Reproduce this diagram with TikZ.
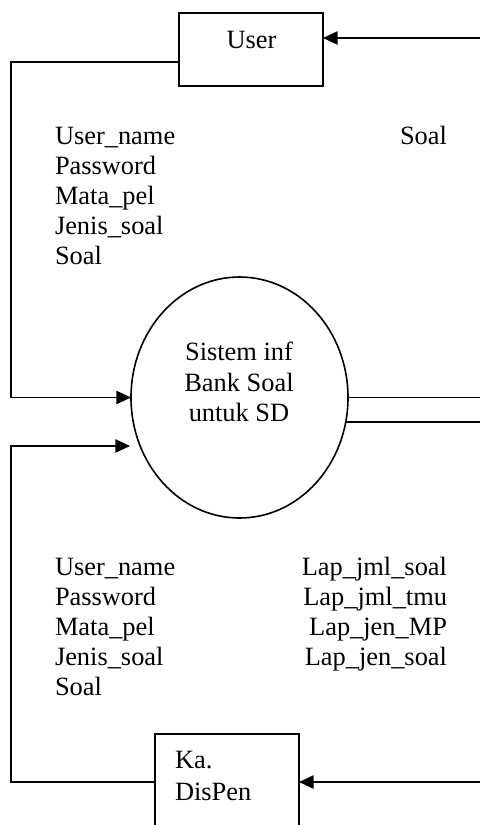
\documentclass[tikz,border=0pt]{standalone}
\usepackage{fontspec}
\setmainfont{Liberation Serif}
\usetikzlibrary{shapes.geometric,arrows.meta}
\begin{document}
\begin{tikzpicture}[x=0.75pt,y=-0.75pt,
  line width=1.2pt,
  every node/.style={font=\fontsize{19.8pt}{22.5pt}\selectfont, inner sep=0pt, outer sep=0pt},
  entity/.style={draw, rectangle, minimum width=108pt},
  procbubble/.style={draw, ellipse, minimum width=162.75pt, minimum height=180.75pt},
  lbl/.style={anchor=base west},
  rlbl/.style={anchor=base east},
  ctr/.style={anchor=base},
  arr/.style={-{Triangle[length=11pt,width=10pt]}}
]
\useasboundingbox (0,0) rectangle (480,825);

% nodes
\node[entity, minimum height=54.75pt] (user) at (251,49.5) {};
\node[ctr] (usert) at (251.5,48.5) {User};
\node[procbubble] (sys) at (239.5,397.5) {};
\node[ctr] (s1) at (239,360) {Sistem inf};
\node[ctr] (s2) at (239,391) {Bank Soal};
\node[ctr] (s3) at (239,421) {untuk SD};
\node[entity, minimum height=87pt] (ka) at (227,792) {};
\node[lbl] (k1) at (175,768) {Ka.};
\node[lbl] (k2) at (175,800) {DisPen};

% upper labels
\node[lbl] (u1) at (55,144) {User\_name};
\node[lbl] (u2) at (55,174) {Password};
\node[lbl] (u3) at (55,204) {Mata\_pel};
\node[lbl] (u4) at (55,234) {Jenis\_soal};
\node[lbl] (u5) at (55,264) {Soal};
\node[rlbl] (ur) at (447,144) {Soal};

% lower labels
\node[lbl] (d1) at (55,575) {User\_name};
\node[lbl] (d2) at (55,605) {Password};
\node[lbl] (d3) at (55,635) {Mata\_pel};
\node[lbl] (d4) at (55,665) {Jenis\_soal};
\node[lbl] (d5) at (55,695) {Soal};
\node[rlbl] (r1) at (447,575) {Lap\_jml\_soal};
\node[rlbl] (r2) at (447,605) {Lap\_jml\_tmu};
\node[rlbl] (r3) at (447,635) {Lap\_jen\_MP};
\node[rlbl] (r4) at (447,665) {Lap\_jen\_soal};

% free-end coordinates
\coordinate (cL1) at (11,62);
\coordinate (cL2) at (11,782);
\coordinate (tip2) at (130,446);
\coordinate (cR1) at (480,38);
\coordinate (cR2) at (480,782);
\coordinate (cR) at (480,0);

% connectors
\draw[arr] (user.west |- cL1) -- (cL1) -- (cL1 |- sys.west) -- (sys.west);
\draw[arr] (cR1) -- (user.east |- cR1);
\draw (sys.east) -- (sys.east -| cR);
\draw (sys.-13) -- (sys.-13 -| cR);
\draw[arr] (ka.west |- cL2) -- (cL2) -- (cL2 |- tip2) -- (tip2);
\draw[arr] (cR2) -- (ka.east |- cR2);
\end{tikzpicture}
\end{document}
